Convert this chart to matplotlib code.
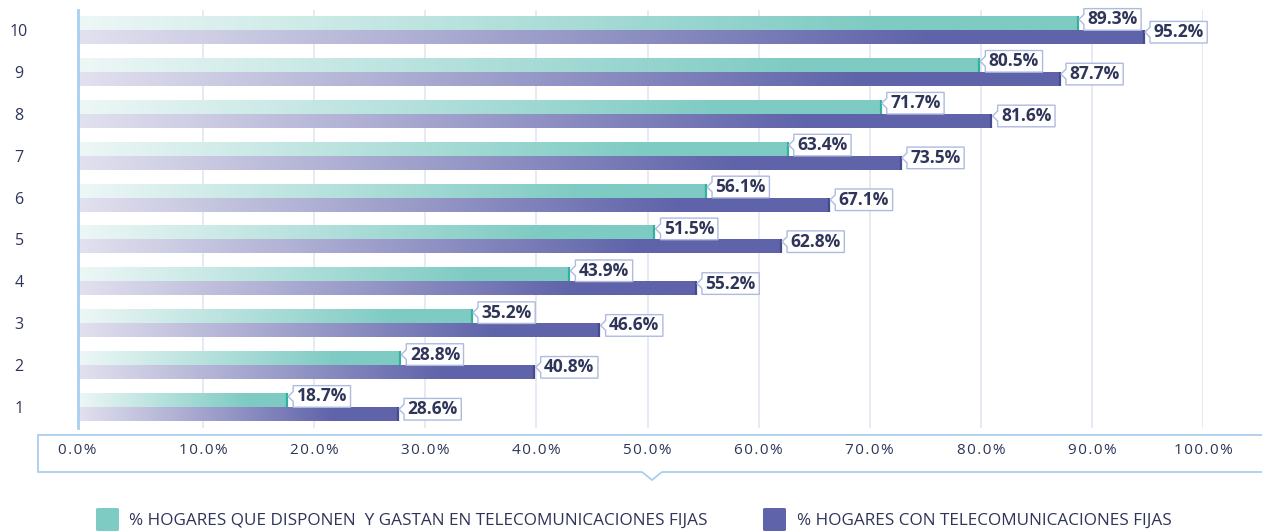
import numpy as np
import matplotlib
matplotlib.use('Agg')
import matplotlib.pyplot as plt
from matplotlib.path import Path
from matplotlib.patches import PathPatch, FancyBboxPatch
from matplotlib.colors import to_rgb
import matplotlib.transforms as mtransforms

# ---- data ----
categories = [1, 2, 3, 4, 5, 6, 7, 8, 9, 10]
teal_values = [18.7, 28.8, 35.2, 43.9, 51.5, 56.1, 63.4, 71.7, 80.5, 89.3]
purple_values = [28.6, 40.8, 46.6, 55.2, 62.8, 67.1, 73.5, 81.6, 87.7, 95.2]
x_ticks = [0, 10, 20, 30, 40, 50, 60, 70, 80, 90, 100]
x_tick_labels = ['0.0%', '10.0%', '20.0%', '30.0%', '40.0%', '50.0%',
                 '60.0%', '70.0%', '80.0%', '90.0%', '100.0%']
legend_labels = ['% HOGARES QUE DISPONEN  Y GASTAN EN TELECOMUNICACIONES FIJAS',
                 '% HOGARES CON TELECOMUNICACIONES FIJAS']

# ---- style ----
W, H = 1262, 531
TEAL = '#7ecbc3'
TEAL_LIGHT = '#edf7f6'
TEAL_EDGE = '#2fb39f'
PURPLE = '#5f63a9'
PURPLE_LIGHT = '#e2e1ef'
PURPLE_EDGE = '#464a90'
NAVY = '#2e3558'
AXBLUE = '#a9cff0'
GRID = '#e3e6f3'
BOXEDGE = '#aebbe0'
FONT = ['Open Sans', 'DejaVu Sans']
HAIR = '\u200a'

plt.rcParams['font.family'] = FONT


def spaced(s):
    return HAIR.join(s)


fig = plt.figure(figsize=(W / 100, H / 100), dpi=100)

# grid / tick-label axes (behind)
g_left, g_right = 92, 1203
ax_left, ax_right, ax_top, ax_bottom = 77.5, 1197.5, 10, 428
gx = fig.add_axes([g_left / W, (H - ax_bottom) / H,
                   (g_right - g_left) / W, (ax_bottom - ax_top) / H])
gx.set_xlim(0, 100)
gx.set_ylim(0, 1)
gx.set_yticks([])
for s in gx.spines.values():
    s.set_visible(False)
gx.patch.set_alpha(0)
gx.set_xticks(x_ticks, [spaced(s) for s in x_tick_labels])
gx.grid(axis='x', color=GRID, lw=1.2)
gx.tick_params(axis='x', length=0, pad=11, labelsize=11, labelcolor=NAVY)
gx.get_xgridlines()[0].set_visible(False)
lbl0 = gx.get_xticklabels()[0]
lbl0.set_transform(lbl0.get_transform() +
                   mtransforms.ScaledTranslation(-15 / 100, 0, fig.dpi_scale_trans))

# bar axes
ax = fig.add_axes([ax_left / W, (H - ax_bottom) / H,
                   (ax_right - ax_left) / W, (ax_bottom - ax_top) / H])
ax.patch.set_alpha(0)

ylim = (0.499, 10.477)
px_per_unit = (ax_bottom - ax_top) / (ylim[1] - ylim[0])
bar_h = 14 / px_per_unit


def gradient(c0, c1, frac=0.8, n=256):
    c0 = np.array(to_rgb(c0))
    c1 = np.array(to_rgb(c1))
    t = np.clip(np.linspace(0, 1, n) / frac, 0, 1)
    return (c0 + (c1 - c0) * t[:, None]).reshape(1, n, 3)


cats = np.array(categories, dtype=float)
teal_bars = ax.barh(cats, teal_values, height=bar_h, align='edge',
                    facecolor='none', edgecolor='none', zorder=2)
purple_bars = ax.barh(cats, purple_values, height=-bar_h, align='edge',
                      facecolor='none', edgecolor='none', zorder=2)

for bars, c0, c1 in ((teal_bars, TEAL_LIGHT, TEAL), (purple_bars, PURPLE_LIGHT, PURPLE)):
    img = gradient(c0, c1)
    for b in bars:
        x0, y0, w, h = b.get_x(), b.get_y(), b.get_width(), b.get_height()
        im = ax.imshow(img, extent=[x0, x0 + w, y0, y0 + h], aspect='auto',
                       interpolation='bilinear', zorder=2)
        im.set_clip_path(b)

ax.vlines(teal_values, cats, cats + bar_h, color=TEAL_EDGE, lw=1.6, zorder=3)
ax.vlines(purple_values, cats - bar_h, cats, color=PURPLE_EDGE, lw=1.6, zorder=3)

ax.set_xlim(0, 100)
ax.set_ylim(*ylim)
ax.set_aspect('auto')
ax.set_xticks([])
for s in ('top', 'right', 'bottom'):
    ax.spines[s].set_visible(False)
ax.spines['left'].set_color(AXBLUE)
ax.spines['left'].set_linewidth(2)
ax.set_yticks(categories, [str(c) for c in categories])
ax.tick_params(axis='y', length=0, pad=42, labelsize=11.5, labelcolor=NAVY)
for t in ax.get_yticklabels():
    t.set_horizontalalignment('center')


# callout label box
def callout_style(x0, y0, width, height, mutation_size):
    padx, pady, n = 3.5, 1.8, 5.0
    x0 -= padx
    y0 -= pady
    width += 2 * padx
    height += 2 * pady
    ym = y0 + height / 2
    verts = [(x0, y0), (x0 + width, y0), (x0 + width, y0 + height),
             (x0, y0 + height), (x0, ym + n), (x0 - n, ym), (x0, ym - n), (x0, y0)]
    codes = [Path.MOVETO] + [Path.LINETO] * 6 + [Path.CLOSEPOLY]
    return Path(verts, codes)


for vals, dy in ((teal_values, 7.6), (purple_values, -1.6)):
    for c, v in zip(cats, vals):
        ax.annotate(f'{v:.1f}%', xy=(v, c), xytext=(7.0, dy),
                    textcoords='offset points', ha='left', va='center',
                    fontsize=12.5, fontweight='bold', color=NAVY, zorder=5,
                    bbox=dict(boxstyle=callout_style, fc='white', ec=BOXEDGE, lw=1))


# x tick box with notch (figure pixel coords)
def fy(y):
    return (H - y) / H


def fx(x):
    return x / W


bx0, bx1, by0, by1 = 38, 1266, 435, 472
nx, nw, nd = 652, 10, 8
verts = [(fx(bx1), fy(by0)), (fx(bx0), fy(by0)), (fx(bx0), fy(by1)),
         (fx(nx - nw), fy(by1)), (fx(nx), fy(by1 + nd)), (fx(nx + nw), fy(by1)),
         (fx(bx1), fy(by1))]
box = PathPatch(Path(verts), transform=fig.transFigure, fc='white', ec=AXBLUE,
                lw=1.3, zorder=-1)
fig.patches.append(box)

# legend
sq = 23
for (x_sq, x_txt), col, lab in zip(((96, 129), (763, 797)), (TEAL, PURPLE), legend_labels):
    p = FancyBboxPatch((fx(x_sq), fy(508 + sq)), sq / W, sq / H,
                       boxstyle='round,pad=0,rounding_size=0.002',
                       transform=fig.transFigure, fc=col, ec='none')
    fig.patches.append(p)
    fig.text(fx(x_txt), fy(521), lab, ha='left', va='center', fontsize=12.3,
             color=NAVY)

fig.savefig('out.png', dpi=100)
